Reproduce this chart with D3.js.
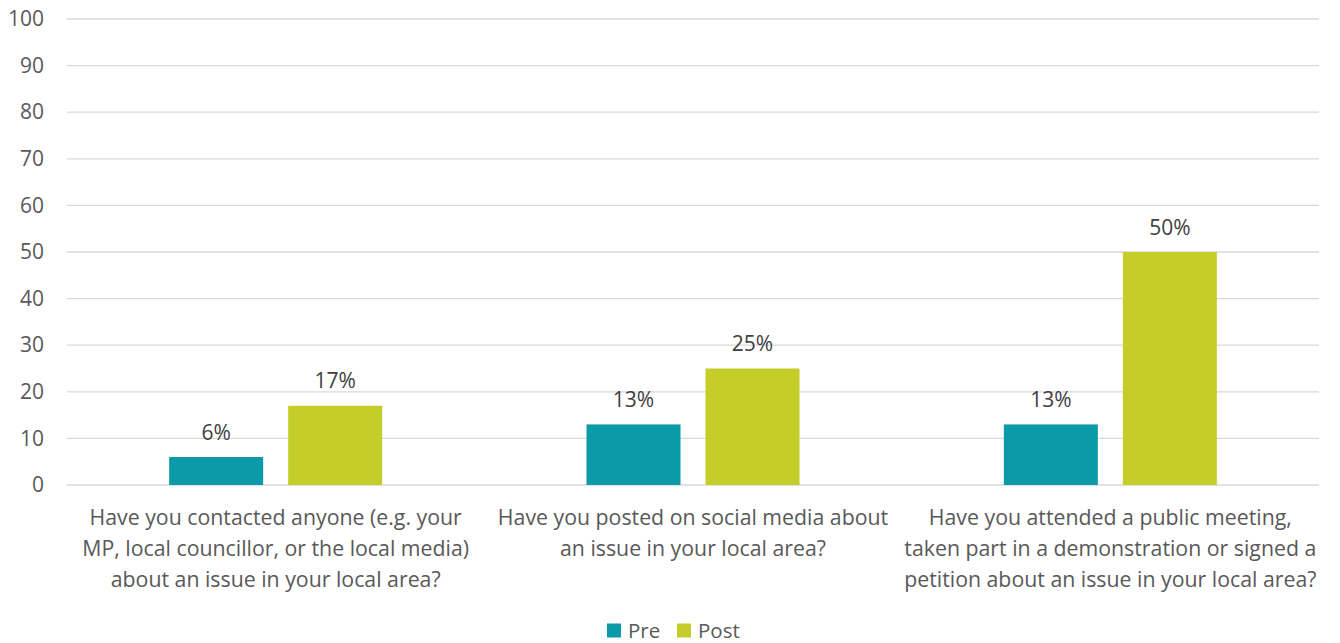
<!DOCTYPE html>
<html>
<head>
<meta charset="utf-8">
<script src="https://cdn.jsdelivr.net/npm/d3@7"></script>
<style>
  html, body { margin: 0; padding: 0; background: #fff; }
  svg { display: block; font-family: "Open Sans", "Noto Sans", sans-serif; }
</style>
</head>
<body>
<svg id="chart" width="1340" height="643"></svg>
<script>
// Survey questions (x categories), each split into lines for wrapping
const categories = [
  ["Have you contacted anyone (e.g. your", "MP, local councillor, or the local media)", "about an issue in your local area?"],
  ["Have you posted on social media about", "an issue in your local area?"],
  ["Have you attended a public meeting,", "taken part in a demonstration or signed a", "petition about an issue in your local area?"]
];
const seriesNames = ["Pre", "Post"];
const preValues = [6, 13, 13];
const postValues = [17, 25, 50];
const yTicks = [0, 10, 20, 30, 40, 50, 60, 70, 80, 90, 100];

const colors = { Pre: "#0a9aa8", Post: "#c5cd28" };
const FONT = "'Open Sans', 'Noto Sans', sans-serif";

const svg = d3.select("#chart");
const margin = { left: 67, right: 21, top: 19, bottom: 158 };
const W = 1340, H = 643;
const innerW = W - margin.left - margin.right;
const innerH = H - margin.top - margin.bottom;

const g = svg.append("g").attr("transform", `translate(${margin.left},${margin.top})`);

const x0 = d3.scaleBand().domain(d3.range(categories.length)).range([0, innerW]).padding(0);
const y = d3.scaleLinear().domain([0, 100]).range([innerH, 0]);

// Two bars per category, centred in the band with a small gap between them
const barW = 94, barGap = 25;
const x1 = d3.scaleBand().domain(seriesNames)
  .range([x0.bandwidth() / 2 - barW - barGap / 2, x0.bandwidth() / 2 + barW + barGap / 2])
  .paddingInner(barGap / (barW + barGap))
  .paddingOuter(0);

// Gridlines
g.append("g").selectAll("line").data(yTicks).join("line")
  .attr("x1", 0).attr("x2", innerW)
  .attr("y1", d => y(d)).attr("y2", d => y(d))
  .attr("stroke", "#d9d9d9").attr("stroke-width", 1.3);

// Y axis labels
const yAxis = d3.axisLeft(y).tickValues(yTicks).tickSize(0).tickPadding(23);
g.append("g").call(yAxis)
  .call(s => s.select(".domain").remove())
  .selectAll("text")
  .attr("fill", "#595959").attr("font-size", 21)
  .attr("font-family", FONT);

// Bars
const rows = categories.map((c, i) => ({ i, values: [
  { key: "Pre", value: preValues[i] },
  { key: "Post", value: postValues[i] }
]}));

const groups = g.selectAll(".cat").data(rows).join("g")
  .attr("class", "cat")
  .attr("transform", d => `translate(${x0(d.i)},0)`);

groups.selectAll("rect").data(d => d.values).join("rect")
  .attr("x", d => x1(d.key))
  .attr("width", x1.bandwidth())
  .attr("y", d => y(d.value))
  .attr("height", d => y(0) - y(d.value))
  .attr("fill", d => colors[d.key]);

// Value labels above bars
groups.selectAll("text.val").data(d => d.values).join("text")
  .attr("class", "val")
  .attr("x", d => x1(d.key) + x1.bandwidth() / 2)
  .attr("y", d => y(d.value) - 17.5)
  .attr("text-anchor", "middle")
  .attr("fill", "#404040").attr("font-size", 21)
  .text(d => d.value + "%");

// Category labels
const catLabels = g.append("g").attr("transform", `translate(0,${innerH})`);
categories.forEach((lines, i) => {
  const cx = x0(i) + x0.bandwidth() / 2;
  const t = catLabels.append("text")
    .attr("x", cx)
    .attr("y", 40)
    .attr("text-anchor", "middle")
    .attr("fill", "#595959").attr("font-size", 21.3);
  lines.forEach((ln, k) => {
    t.append("tspan").attr("x", cx).attr("dy", k === 0 ? 0 : 31).text(ln);
  });
});

// Legend
const legend = svg.append("g").attr("transform", "translate(0,630.5)");
const legItems = [{ key: "Pre", x: 607 }, { key: "Post", x: 677 }];
legItems.forEach(it => {
  legend.append("rect").attr("x", it.x).attr("y", -7).attr("width", 14).attr("height", 14).attr("fill", colors[it.key]);
  legend.append("text").attr("x", it.x + 21).attr("y", 7).attr("fill", "#595959").attr("font-size", 20.5).text(it.key);
});
</script>
</body>
</html>
